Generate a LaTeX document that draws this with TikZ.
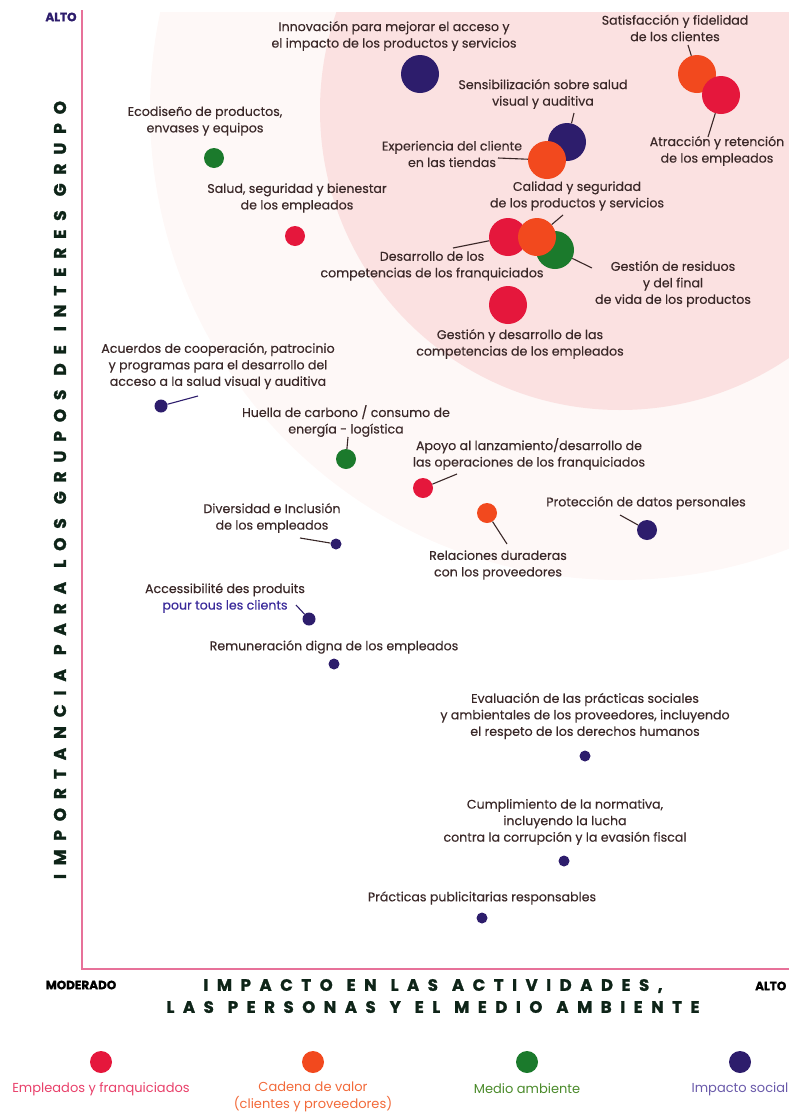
\documentclass[tikz,border=0pt]{standalone}
\usepackage{fontspec}
\setmainfont{Poppins}
\definecolor{cred}{HTML}{E5173C}
\definecolor{corange}{HTML}{F2491E}
\definecolor{cgreen}{HTML}{1B7A2C}
\definecolor{cnavy}{HTML}{2D1D6C}
\definecolor{ctext}{HTML}{3A2828}
\definecolor{ctitle}{HTML}{0E2418}
\definecolor{caxis}{HTML}{E77199}
\definecolor{cpink}{HTML}{FBE1E1}
\definecolor{cpinklight}{HTML}{FEF8F7}
\definecolor{cblue}{HTML}{3A2A9A}
\definecolor{lgred}{HTML}{E8406A}
\definecolor{lgorange}{HTML}{F26A3A}
\definecolor{lggreen}{HTML}{4A8A2A}
\definecolor{lgnavy}{HTML}{6A5AAA}
\newcommand{\wg}{\hspace*{14pt}}
\newcommand{\wgv}{\hspace*{14pt}}
\tikzset{
  bub/.style={circle, inner sep=0pt, draw=none},
  bigb/.style={bub, minimum size=38pt},
  midb/.style={bub, minimum size=20pt},
  smlb/.style={bub, minimum size=13pt},
  tinyb/.style={bub, minimum size=11pt},
  lbl/.style={align=center, text=ctext, font=\fontsize{12.6}{16.5}\selectfont\addfontfeature{FakeBold=0.35}, inner sep=0pt},
  link/.style={draw=ctext, line width=1.1pt},
  axisline/.style={draw=caxis, line width=2pt},
  ttl/.style={text=ctitle, font=\fontsize{16.5}{22}\selectfont\bfseries\addfontfeature{LetterSpace=52,FakeBold=1.5}, align=center, inner sep=0pt},
  vttl/.style={text=ctitle, font=\fontsize{17}{22}\selectfont\bfseries\addfontfeature{LetterSpace=52,FakeBold=1.5}, inner sep=0pt},
  endlbl/.style={font=\fontsize{12}{14}\selectfont\bfseries\addfontfeature{FakeBold=1.2}, inner sep=0pt},
  leglbl/.style={align=center, font=\fontsize{13}{17}\selectfont, inner sep=0pt}
}
\begin{document}
\begin{tikzpicture}[x=1pt,y=-1pt]
\useasboundingbox (0,0) rectangle (789,1114);
% background shading
\begin{scope}
  \clip (82,12) rectangle (789,969);
  \fill[cpinklight] (620,110) circle (470);
  \fill[cpink] (620,110) circle (300);
\end{scope}
% axes
\coordinate (ytop) at (82,10);
\coordinate (origin) at (82,969);
\coordinate (xend) at (789,969);
\draw[axisline] (ytop) -- (origin) -- (xend);
\node[endlbl, text=cnavy] (altoy) at (61,17) {ALTO};
\node[endlbl, text=black] (moderado) at (81,985) {MODERADO};
\node[endlbl, text=black, anchor=west] (altox) at (755,986) {ALTO};
\node[ttl] (xtitle) at (433,996) {IMPACTO\wg EN\wg LAS\wg ACTIVIDADES,\\LAS\wg PERSONAS\wg Y\wg EL\wg MEDIO\wg AMBIENTE};
\node[vttl, rotate=90] (ytitle) at (60,490) {IMPORTANCIA\wgv PARA\wgv LOS\wgv GRUPOS\wgv DE\wgv INTERES\wgv GRUPO};

% big bubbles
\node[bigb, fill=cnavy] (innov) at (420,74) {};
\node[bigb, fill=corange] (sat) at (697,74) {};
\node[bigb, fill=cred] (atr) at (721,95) {};
\node[bigb, fill=cnavy] (sens) at (567,142) {};
\node[bigb, fill=corange] (exp) at (547,160) {};
\node[bigb, fill=cgreen] (resid) at (555,250) {};
\node[bigb, fill=cred] (desf) at (508,237) {};
\node[bigb, fill=corange] (cal) at (537,237) {};
\node[bigb, fill=cred] (gcomp) at (508,305) {};
% mid bubbles
\node[midb, fill=cgreen] (eco) at (214,158) {};
\node[midb, fill=cred] (salud) at (295,236) {};
\node[midb, fill=cgreen] (huella) at (346,459) {};
\node[midb, fill=cred] (apoyo) at (423,488) {};
\node[midb, fill=corange] (rel) at (487,513) {};
\node[midb, fill=cnavy] (prot) at (647,530) {};
% small bubbles
\node[smlb, fill=cnavy] (acu) at (161,406) {};
\node[smlb, fill=cnavy] (acc) at (309,619) {};
\node[tinyb, fill=cnavy] (div) at (336,544) {};
\node[tinyb, fill=cnavy] (rem) at (334,664) {};
\node[tinyb, fill=cnavy] (eval) at (585,756) {};
\node[tinyb, fill=cnavy] (cump) at (564,861) {};
\node[tinyb, fill=cnavy] (prac) at (482,918) {};

% labels
\node[lbl] (linnov) at (394,36) {Innovación para mejorar el acceso y\\el impacto de los productos y servicios};
\node[lbl] (lsat) at (675,28) {Satisfacción y fidelidad\\de los clientes};
\node[lbl] (latr) at (717,151) {Atracción y retención\\de los empleados};
\node[lbl] (lsens) at (543,94) {Sensibilización sobre salud\\visual y auditiva};
\node[lbl] (lexp) at (452,154) {Experiencia del cliente\\en las tiendas};
\node[lbl] (lcal) at (577,196) {Calidad y seguridad\\de los productos y servicios};
\node[lbl] (ldesf) at (432,266) {Desarrollo de los\\competencias de los franquiciados};
\node[lbl] (lresid) at (673,284) {Gestión de residuos\\y del final\\de vida de los productos};
\node[lbl] (lgcomp) at (520,344) {Gestión y desarrollo de las\\competencias de los empleados};
\node[lbl] (leco) at (205,121) {Ecodiseño de productos,\\envases y equipos};
\node[lbl] (lsalud) at (297,198) {Salud, seguridad y bienestar\\de los empleados};
\node[lbl] (lacu) at (218,366) {Acuerdos de cooperación, patrocinio\\y programas para el desarrollo del\\acceso a la salud visual y auditiva};
\node[lbl] (lhuella) at (346,421) {Huella de carbono / consumo de\\energía - logística};
\node[lbl] (lapoyo) at (529,454) {Apoyo al lanzamiento/desarrollo de\\las operaciones de los franquiciados};
\node[lbl] (lrel) at (498,565) {Relaciones duraderas\\con los proveedores};
\node[lbl] (lprot) at (646,503) {Protección de datos personales};
\node[lbl] (ldiv) at (272,518) {Diversidad e Inclusión\\de los empleados};
\node[lbl] (lacc) at (225,598) {Accessibilité des produits\\\textcolor{cblue}{pour tous les clients}};
\node[lbl] (lrem) at (334,647) {Remuneración digna de los empleados};
\node[lbl] (leval) at (585,716) {Evaluación de las prácticas sociales\\y ambientales de los proveedores, incluyendo\\el respeto de los derechos humanos};
\node[lbl] (lcump) at (565,822) {Cumplimiento de la normativa,\\incluyendo la lucha\\contra la corrupción y la evasión fiscal};
\node[lbl] (lprac) at (482,898) {Prácticas publicitarias responsables};

% connectors
\coordinate (csat) at (688,45);
\coordinate (catr) at (708,137);
\coordinate (csens) at (574,113);
\coordinate (cexp) at (498,158);
\coordinate (ccal) at (563,215);
\coordinate (cdesf) at (453,248);
\coordinate (cresid) at (592,268);
\coordinate (cacu) at (198,396);
\coordinate (chuella) at (348,437);
\coordinate (capoyo) at (457,474);
\coordinate (crel) at (507,544);
\coordinate (cprot) at (620,515);
\coordinate (cdiv) at (300,538);
\coordinate (cacc) at (296,605);
\draw[link] (csat) -- (sat);
\draw[link] (catr) -- (atr);
\draw[link] (csens) -- (sens);
\draw[link] (cexp) -- (exp);
\draw[link] (ccal) -- (cal);
\draw[link] (cdesf) -- (desf);
\draw[link] (cresid) -- (resid);
\draw[link, draw=cnavy] (cacu) -- (acu);
\draw[link] (chuella) -- (huella);
\draw[link] (capoyo) -- (apoyo);
\draw[link] (crel) -- (rel);
\draw[link] (cprot) -- (prot);
\draw[link] (cdiv) -- (div);
\draw[link, draw=cnavy] (cacc) -- (acc);

% legend
\node[bub, minimum size=22pt, fill=cred] (lg1) at (101,1062) {};
\node[bub, minimum size=22pt, fill=corange] (lg2) at (313,1062) {};
\node[bub, minimum size=22pt, fill=cgreen] (lg3) at (527,1062) {};
\node[bub, minimum size=22pt, fill=cnavy] (lg4) at (740,1062) {};
\node[leglbl, text=lgred] (lgt1) at (101,1089) {Empleados y franquiciados};
\node[leglbl, text=lgorange, anchor=north] (lgt2) at (313,1082) {Cadena de valor\\(clientes y proveedores)};
\node[leglbl, text=lggreen] (lgt3) at (527,1089) {Medio ambiente};
\node[leglbl, text=lgnavy] (lgt4) at (740,1089) {Impacto social};
\end{tikzpicture}
\end{document}
